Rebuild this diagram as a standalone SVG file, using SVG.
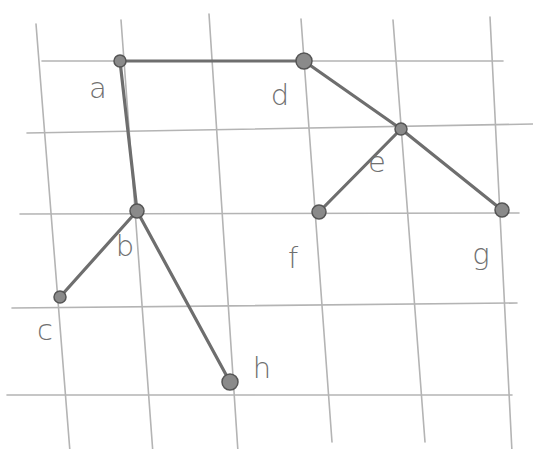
<svg xmlns="http://www.w3.org/2000/svg" width="533" height="449" viewBox="0 0 533 449">
<style>
.grid line{stroke:#b4b4b4;stroke-width:1.6;stroke-linecap:round}
.edges line{stroke:#6e6e6e;stroke-width:3.2;stroke-linecap:round}
.node circle{fill:#8a8a8a;stroke:#555;stroke-width:1.5}
.node text{font-family:"DejaVu Sans",sans-serif;font-size:29px;font-weight:300;fill:#707070;text-anchor:middle}
</style>
<rect width="533" height="449" fill="#fff"/>
<g class="grid">
<line x1="42" y1="61" x2="503" y2="61"/>
<line x1="27" y1="133" x2="533" y2="124"/>
<line x1="20" y1="214" x2="519" y2="213"/>
<line x1="12" y1="308" x2="517" y2="303"/>
<line x1="7" y1="395" x2="512" y2="395"/>
<line x1="36" y1="24" x2="70" y2="452"/>
<line x1="121" y1="20" x2="153" y2="454"/>
<line x1="209" y1="14" x2="238" y2="452"/>
<line x1="301" y1="19" x2="332" y2="442"/>
<line x1="393" y1="20" x2="425" y2="442"/>
<line x1="490" y1="17" x2="512" y2="452"/>
</g>
<g class="edges">
<line x1="120" y1="61" x2="304" y2="61"/>
<line x1="120" y1="61" x2="137" y2="211"/>
<line x1="304" y1="61" x2="401" y2="129"/>
<line x1="401" y1="129" x2="319" y2="212"/>
<line x1="401" y1="129" x2="502" y2="210"/>
<line x1="137" y1="211" x2="60" y2="297"/>
<line x1="137" y1="211" x2="230" y2="382"/>
</g>
<g id="node-a" class="node"><circle cx="120" cy="61" r="6"/><text x="98" y="98">a</text></g>
<g id="node-d" class="node"><circle cx="304" cy="61" r="8"/><text x="280" y="105">d</text></g>
<g id="node-e" class="node"><circle cx="401" cy="129" r="6"/><text x="377" y="172">e</text></g>
<g id="node-f" class="node"><circle cx="319" cy="212" r="7"/><text x="293" y="268">f</text></g>
<g id="node-g" class="node"><circle cx="502" cy="210" r="7"/><text x="481" y="264">g</text></g>
<g id="node-b" class="node"><circle cx="137" cy="211" r="7"/><text x="125" y="256">b</text></g>
<g id="node-c" class="node"><circle cx="60" cy="297" r="6"/><text x="45" y="340">c</text></g>
<g id="node-h" class="node"><circle cx="230" cy="382" r="8"/><text x="262" y="378">h</text></g>
</svg>
